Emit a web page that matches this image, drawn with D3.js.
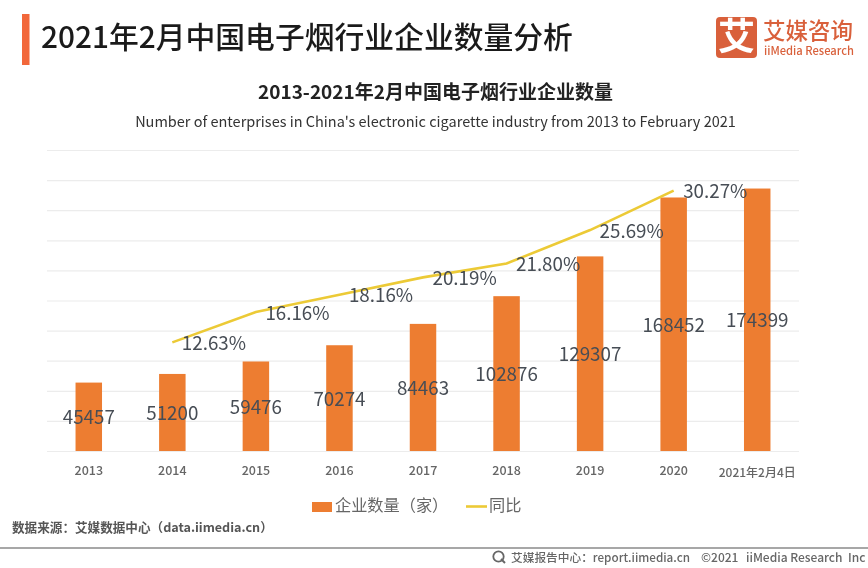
<!DOCTYPE html>
<html>
<head>
<meta charset="utf-8">
<title>2021年2月中国电子烟行业企业数量分析</title>
<script src="https://d3js.org/d3.v7.min.js"></script>
<style>
  html, body { margin: 0; padding: 0; background: #fff; }
  svg { display: block; filter: blur(0.4px); }
  text { font-family: "Noto Sans CJK SC", "Noto Sans", sans-serif; }
  .grid line { stroke: #ececec; stroke-width: 1.2; }
  .grid path, .xaxis path, .xaxis line { display: none; }
</style>
</head>
<body>
<div id="chart"></div>

<script>
  // data
  var categories = ["2013", "2014", "2015", "2016", "2017", "2018", "2019", "2020", "2021年2月4日"];
  var companyCounts = [45457, 51200, 59476, 70274, 84463, 102876, 129307, 168452, 174399];
  var yoyCategories = ["2014", "2015", "2016", "2017", "2018", "2019", "2020"];
  var yoyRates = [12.63, 16.16, 18.16, 20.19, 21.80, 25.69, 30.27];
  var gridTicks = [0, 20000, 40000, 60000, 80000, 100000, 120000, 140000, 160000, 180000, 200000];

  var width = 868, height = 568;
  var plot = { left: 47, right: 799, top: 150, bottom: 451 };

  var svg = d3.select("#chart").append("svg")
    .attr("width", width)
    .attr("height", height);

  // header
  svg.append("rect").attr("x", 22).attr("y", 14).attr("width", 7.5).attr("height", 51).attr("fill", "#f2673a");
  svg.append("text").attr("x", 41).attr("y", 48)
    .attr("font-size", 29.8).attr("font-weight", 500).attr("fill", "#1a1a1a")
    .text("2021年2月中国电子烟行业企业数量分析");

  // logo
  svg.append("rect").attr("x", 716).attr("y", 17).attr("width", 41).attr("height", 41).attr("rx", 4).attr("fill", "#d9603b");
  svg.append("text").attr("x", 736.5).attr("y", 49.5).attr("text-anchor", "middle")
    .attr("font-size", 37).attr("font-weight", 700).attr("fill", "#fff").text("艾");
  svg.append("text").attr("x", 763).attr("y", 39)
    .attr("font-size", 22.5).attr("font-weight", 500).attr("fill", "#d9603b").text("艾媒咨询");
  svg.append("text").attr("x", 764).attr("y", 55)
    .attr("font-size", 11.2).attr("font-weight", 500).attr("fill", "#d9603b").text("iiMedia Research");

  // chart titles
  svg.append("text").attr("x", 435.5).attr("y", 99).attr("text-anchor", "middle")
    .attr("font-size", 19).attr("font-weight", 700).attr("fill", "#222")
    .text("2013-2021年2月中国电子烟行业企业数量");
  svg.append("text").attr("x", 435.5).attr("y", 127).attr("text-anchor", "middle")
    .attr("font-size", 14.5).attr("font-weight", 400).attr("fill", "#333")
    .text("Number of enterprises in China's electronic cigarette industry from 2013 to February 2021");

  // scales
  var x = d3.scaleBand().domain(categories).range([plot.left, plot.right]);
  var y = d3.scaleLinear().domain([0, 200000]).range([plot.bottom, plot.top]);
  var yRate = d3.scaleLinear().domain([0, 35]).range([plot.bottom, plot.top]);
  var barWidth = x.bandwidth() * 0.317;

  // gridlines
  svg.append("g")
    .attr("class", "grid")
    .attr("transform", "translate(" + plot.left + ",0)")
    .call(d3.axisRight(y).tickValues(gridTicks).tickSize(plot.right - plot.left).tickFormat(""));

  // x axis
  var xAxis = svg.append("g")
    .attr("class", "xaxis")
    .attr("transform", "translate(0," + plot.bottom + ")")
    .call(d3.axisBottom(x).tickSize(0).tickPadding(15));
  xAxis.selectAll("text")
    .attr("font-size", 12.5)
    .attr("font-weight", 500)
    .attr("fill", "#666")
    .style("font-family", '"Noto Sans CJK SC", sans-serif');
  xAxis.selectAll("text").filter(function (d) { return d === "2021年2月4日"; })
    .attr("dy", "0.95em")
    .attr("font-size", 12);

  // bars
  svg.append("g").selectAll("rect")
    .data(companyCounts)
    .enter().append("rect")
    .attr("x", function (d, i) { return x(categories[i]) + (x.bandwidth() - barWidth) / 2; })
    .attr("y", function (d) { return y(d); })
    .attr("width", barWidth)
    .attr("height", function (d) { return y(0) - y(d); })
    .attr("fill", "#ed7d31");

  // yoy line
  var line = d3.line()
    .x(function (d, i) { return x(yoyCategories[i]) + x.bandwidth() / 2; })
    .y(function (d) { return yRate(d); });
  svg.append("path")
    .datum(yoyRates)
    .attr("d", line)
    .attr("fill", "none")
    .attr("stroke", "#ecca36")
    .attr("stroke-width", 2.6);

  // value labels, centred in the bars
  svg.append("g").selectAll("text")
    .data(companyCounts)
    .enter().append("text")
    .attr("x", function (d, i) { return x(categories[i]) + x.bandwidth() / 2; })
    .attr("y", function (d) { return (y(d) + y(0)) / 2 + 1; })
    .attr("dy", "0.35em")
    .attr("text-anchor", "middle")
    .attr("font-size", 18.8)
    .attr("fill", "#474d55")
    .text(function (d) { return d; });

  // rate labels, to the right of each point
  svg.append("g").selectAll("text")
    .data(yoyRates)
    .enter().append("text")
    .attr("x", function (d, i) { return x(yoyCategories[i]) + x.bandwidth() / 2 + 9.5; })
    .attr("y", function (d) { return yRate(d) + 1; })
    .attr("dy", "0.35em")
    .attr("font-size", 18.8)
    .attr("fill", "#474d55")
    .text(function (d) { return d.toFixed(2) + "%"; });

  // legend
  svg.append("rect").attr("x", 312).attr("y", 502).attr("width", 20).attr("height", 10).attr("fill", "#ed7d31");
  svg.append("text").attr("x", 335).attr("y", 511).attr("font-size", 16.2).attr("fill", "#666").text("企业数量（家）");
  svg.append("line").attr("x1", 466).attr("x2", 487).attr("y1", 506.5).attr("y2", 506.5)
    .attr("stroke", "#ecca36").attr("stroke-width", 2.6);
  svg.append("text").attr("x", 489).attr("y", 511).attr("font-size", 16.2).attr("fill", "#666").text("同比");

  // source and footer
  svg.append("text").attr("x", 12).attr("y", 532)
    .attr("font-size", 12.6).attr("font-weight", 700).attr("fill", "#555")
    .text("数据来源：艾媒数据中心（data.iimedia.cn）");
  svg.append("line").attr("x1", 0).attr("x2", width).attr("y1", 548).attr("y2", 548)
    .attr("stroke", "#8a8a8a").attr("stroke-width", 1.6);

  svg.append("circle").attr("cx", 498.5).attr("cy", 556.5).attr("r", 5.2)
    .attr("fill", "none").attr("stroke", "#666").attr("stroke-width", 1.8);
  svg.append("line").attr("x1", 501).attr("y1", 559).attr("x2", 505).attr("y2", 563)
    .attr("stroke", "#666").attr("stroke-width", 2);
  svg.append("text").attr("x", 511).attr("y", 561.5)
    .attr("font-size", 11.7).attr("font-weight", 500).attr("fill", "#666")
    .text("艾媒报告中心：report.iimedia.cn");
  svg.append("text").attr("x", 701).attr("y", 561.5)
    .attr("font-size", 12).attr("font-weight", 500).attr("fill", "#666")
    .text("©2021");
  svg.append("text").attr("x", 746).attr("y", 561.5)
    .attr("font-size", 12).attr("font-weight", 500).attr("fill", "#666")
    .text("iiMedia Research");
  svg.append("text").attr("x", 848).attr("y", 561.5)
    .attr("font-size", 12).attr("font-weight", 500).attr("fill", "#666")
    .text("Inc");
</script>
</body>
</html>
